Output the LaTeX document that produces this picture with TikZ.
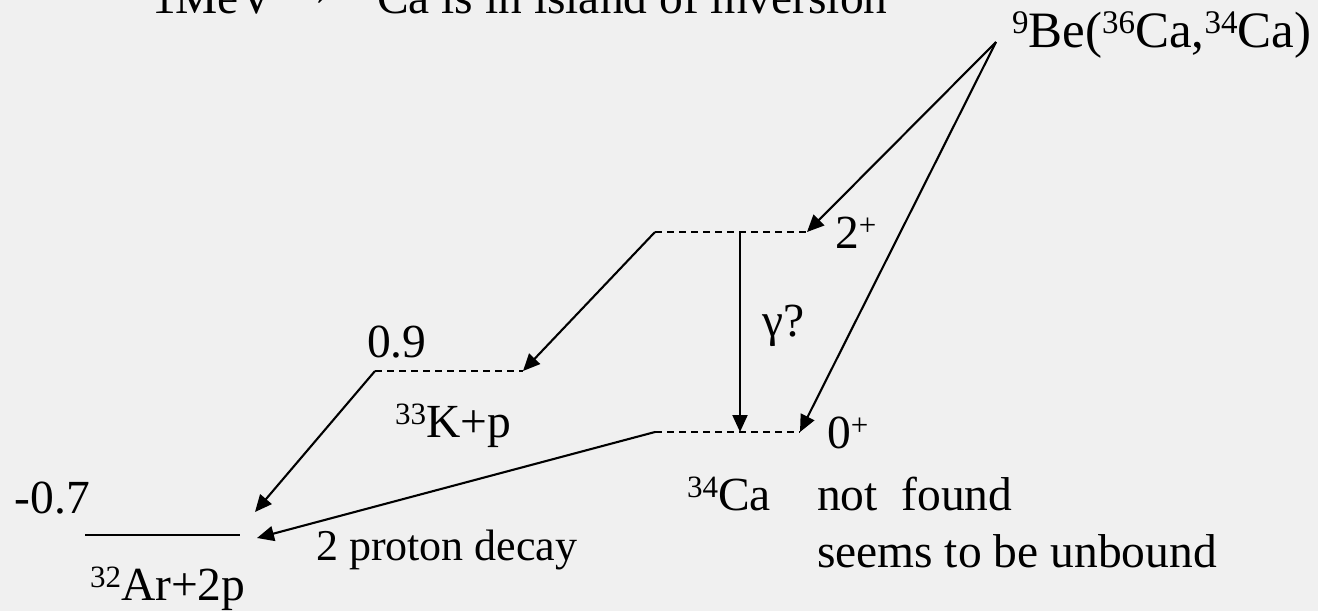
\documentclass[tikz,border=0pt]{standalone}
\usepackage{fontspec}
\setmainfont{Liberation Serif}
\usetikzlibrary{arrows.meta}
\definecolor{bg}{RGB}{240,240,240}
\newcommand{\Sp}[1]{\raisebox{13pt}{\fontsize{31}{31}\selectfont #1}}
\begin{document}
\begin{tikzpicture}[x=1pt,y=-1pt,
 txt/.style={anchor=base west, inner sep=0pt, outer sep=0pt, font=\fontsize{47.5}{57}\selectfont},
 lvl/.style={line width=2.1pt, dash pattern=on 7pt off 5pt},
 gnd/.style={line width=2.1pt},
 arr/.style={line width=2.1pt, -{Triangle[length=17pt,width=15pt]}}]
\fill[bg] (0,0) rectangle (1318,611);
\useasboundingbox (0,0) rectangle (1318,611);
\begin{scope}
\clip (0,0) rectangle (1318,611);
\node[txt] (t0) at (126,13) {\raisebox{3pt}{\textasciitilde}};
\node[txt] (t1) at (152,13) {1MeV};
\node[txt] (t2) at (288,13) {\raisebox{8pt}{→}};
\node[txt] (t3) at (346,13) {\raisebox{20pt}{\fontsize{31}{31}\selectfont 34}Ca is in island of inversion};
\end{scope}
% level coordinates
\coordinate (src) at (996,42);
\coordinate (TwoL) at (655,232); \coordinate (TwoR) at (807,232); \coordinate (TwoM) at (740,232);
\coordinate (ZeroL) at (655,432); \coordinate (ZeroR) at (800,432); \coordinate (ZeroM) at (740,432);
\coordinate (KL) at (375,371); \coordinate (KR) at (523,371);
\coordinate (ArL) at (85,535); \coordinate (ArR) at (240,535);
\coordinate (ArT1) at (255,512); \coordinate (ArT2) at (257,538);
% levels
\draw[lvl] (TwoL) -- (TwoR);
\draw[lvl] (ZeroL) -- (ZeroR);
\draw[lvl] (KL) -- (KR);
\draw[gnd] (ArL) -- (ArR);
% transitions
\draw[arr] (src) -- (TwoR);
\draw[arr] (src) -- (ZeroR);
\draw[arr] (TwoM) -- (ZeroM);
\draw[arr] (TwoL) -- (KR);
\draw[arr] (KL) -- (ArT1);
\draw[arr] (ZeroL) -- (ArT2);
% labels
\node[txt, font=\fontsize{51}{60}\selectfont] (react) at (1012,47) {\raisebox{14pt}{\fontsize{33}{33}\selectfont 9}Be(\raisebox{14pt}{\fontsize{33}{33}\selectfont 36}Ca,\raisebox{14pt}{\fontsize{33}{33}\selectfont 34}Ca)};
\node[txt] (two) at (835,248) {2\Sp{+}};
\node[txt] (gam) at (762,336) {γ?};
\node[txt] (k09) at (367,357) {0.9};
\node[txt] (kp) at (395,437) {\Sp{33}K+p};
\node[txt] (zero) at (827,448) {0\Sp{+}};
\node[txt] (ca) at (687,510) {\Sp{34}Ca};
\node[txt] (nf) at (817,510) {not~~found};
\node[txt] (unb) at (817,567) {seems to be unbound};
\node[txt] (m07) at (15,513) {-0.7};
\node[txt] (ar) at (90,600) {\Sp{32}Ar+2p};
\node[txt, font=\fontsize{44}{52}\selectfont] (dec) at (316,560) {2 proton decay};
\end{tikzpicture}
\end{document}
